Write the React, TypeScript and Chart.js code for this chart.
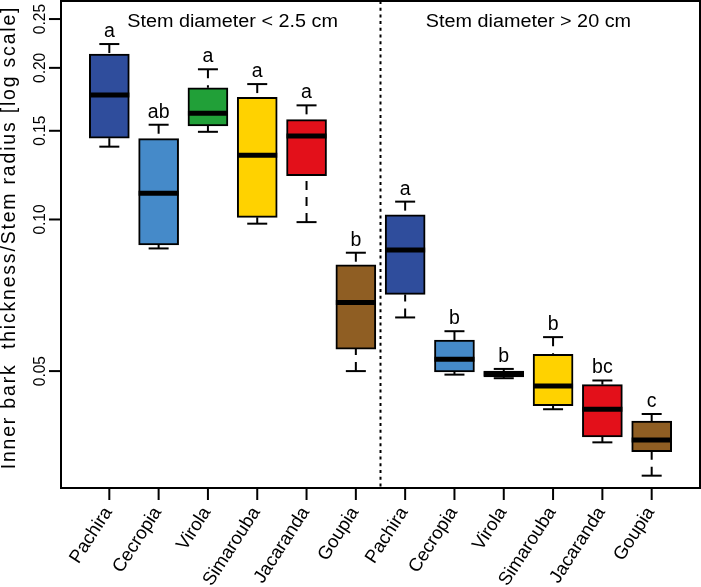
import React, { useEffect, useRef } from 'react';
import { Chart, registerables } from 'chart.js';

Chart.register(...registerables);

const CATEGORIES = ['Pachira', 'Cecropia', 'Virola', 'Simarouba', 'Jacaranda', 'Goupia', 'Pachira', 'Cecropia', 'Virola', 'Simarouba', 'Jacaranda', 'Goupia'];
const MIN_VALUES = [0.1395, 0.0876, 0.1493, 0.0981, 0.0988, 0.0500, 0.0639, 0.0492, 0.0484, 0.0420, 0.0361, 0.0310];
const Q1_VALUES = [0.1450, 0.0890, 0.1533, 0.1010, 0.1222, 0.0553, 0.0710, 0.0498, 0.0487, 0.0427, 0.0370, 0.0346];
const MEDIAN_VALUES = [0.1767, 0.1127, 0.1625, 0.1341, 0.1464, 0.0684, 0.0870, 0.0528, 0.0494, 0.0467, 0.0420, 0.0365];
const Q3_VALUES = [0.2130, 0.1447, 0.1826, 0.1748, 0.1578, 0.0813, 0.1022, 0.0576, 0.0500, 0.0540, 0.0470, 0.0398];
const MAX_VALUES = [0.2230, 0.1542, 0.1987, 0.1857, 0.1685, 0.0859, 0.1085, 0.0600, 0.0505, 0.0584, 0.0479, 0.0411];
const LETTERS = ['a', 'ab', 'a', 'a', 'a', 'b', 'a', 'b', 'b', 'b', 'bc', 'c'];
const SPECIES_COLORS = ['#2F4D9C', '#458AC9', '#21A038', '#FFD200', '#E3101A', '#8F5E23'];
const BOX_COLORS = [...SPECIES_COLORS, ...SPECIES_COLORS];
const Y_TICKS = [0.05, 0.10, 0.15, 0.20, 0.25];
const Y_TICK_LABELS = ['0.05', '0.10', '0.15', '0.20', '0.25'];
const PANEL_TITLES = ['Stem diameter < 2.5 cm', 'Stem diameter > 20 cm'];
const PANEL_CENTERS = [3.5, 9.5];
const DIVIDER_AT = 6.5;
const Y_TITLE = 'Inner bark  thickness/Stem radius [log scale]';

const FONT = '"Liberation Sans", Arial, Helvetica, sans-serif';

function drawText(
  ctx: CanvasRenderingContext2D,
  text: string,
  x: number,
  y: number,
  size: number,
  rot: number,
  align: CanvasTextAlign,
  baseline: CanvasTextBaseline,
  stretchX = 1,
  spacing = 0
) {
  ctx.save();
  ctx.translate(x, y);
  ctx.scale(stretchX, 1);
  ctx.rotate(rot);
  ctx.font = `${size}px ${FONT}`;
  ctx.textAlign = align;
  ctx.textBaseline = baseline;
  ctx.fillStyle = '#000';
  if (spacing) (ctx as any).letterSpacing = `${spacing}px`;
  ctx.fillText(text, 0, 0);
  ctx.restore();
}

const boxPlugin = {
  id: 'boxExtras',
  beforeDatasetsDraw(chart: any) {
    const ctx: CanvasRenderingContext2D = chart.ctx;
    const xs = chart.scales.x;
    const ys = chart.scales.y;
    ctx.save();
    ctx.strokeStyle = '#000';
    ctx.lineWidth = 2;
    CATEGORIES.forEach((_, i) => {
      const cx = xs.getPixelForValue(i + 1);
      const pairs: [number, number][] = [
        [MAX_VALUES[i], Q3_VALUES[i]],
        [MIN_VALUES[i], Q1_VALUES[i]],
      ];
      pairs.forEach(([end, edge]) => {
        const yEnd = ys.getPixelForValue(end);
        const yEdge = ys.getPixelForValue(edge);
        ctx.setLineDash([9, 7]);
        ctx.beginPath();
        ctx.moveTo(cx, yEnd);
        ctx.lineTo(cx, yEdge);
        ctx.stroke();
        ctx.setLineDash([]);
        ctx.beginPath();
        ctx.moveTo(cx - 10, yEnd);
        ctx.lineTo(cx + 10, yEnd);
        ctx.stroke();
      });
    });
    ctx.restore();
  },
  afterDatasetsDraw(chart: any) {
    const ctx: CanvasRenderingContext2D = chart.ctx;
    const xs = chart.scales.x;
    const ys = chart.scales.y;
    const area = chart.chartArea;
    ctx.save();
    // medians
    ctx.strokeStyle = '#000';
    ctx.lineWidth = 5;
    ctx.lineCap = 'butt';
    CATEGORIES.forEach((_, i) => {
      const cx = xs.getPixelForValue(i + 1);
      const y = ys.getPixelForValue(MEDIAN_VALUES[i]);
      ctx.beginPath();
      ctx.moveTo(cx - 20, y);
      ctx.lineTo(cx + 20, y);
      ctx.stroke();
    });
    // divider
    ctx.lineWidth = 2;
    ctx.setLineDash([3, 3.7]);
    const dx = xs.getPixelForValue(DIVIDER_AT);
    ctx.beginPath();
    ctx.moveTo(dx, area.top);
    ctx.lineTo(dx, area.bottom);
    ctx.stroke();
    ctx.setLineDash([]);
    // frame
    ctx.strokeRect(area.left, area.top, area.right - area.left, area.bottom - area.top);
    // y ticks
    Y_TICKS.forEach((v, k) => {
      const y = ys.getPixelForValue(v);
      ctx.beginPath();
      ctx.moveTo(area.left - 12, y);
      ctx.lineTo(area.left, y);
      ctx.stroke();
      drawText(ctx, Y_TICK_LABELS[k], 45, y, 15.5, -Math.PI / 2, 'center', 'alphabetic', 1.12);
    });
    // x ticks + labels
    CATEGORIES.forEach((name, i) => {
      const cx = xs.getPixelForValue(i + 1);
      ctx.beginPath();
      ctx.moveTo(cx, area.bottom);
      ctx.lineTo(cx, area.bottom + 12);
      ctx.stroke();
      drawText(ctx, name, cx - 1, area.bottom + 21, 18.5, -(57 * Math.PI) / 180, 'right', 'middle');
    });
    // letters
    CATEGORIES.forEach((_, i) => {
      const cx = xs.getPixelForValue(i + 1);
      const y = ys.getPixelForValue(MAX_VALUES[i]);
      drawText(ctx, LETTERS[i], cx, y - 7, 19.5, 0, 'center', 'alphabetic');
    });
    // panel titles
    PANEL_TITLES.forEach((t, k) => {
      drawText(ctx, t, xs.getPixelForValue(PANEL_CENTERS[k]), area.top + 26, 18, 0, 'center', 'alphabetic', 1.1);
    });
    // y title
    drawText(ctx, Y_TITLE, 14.5, 237.5, 19.5, -Math.PI / 2, 'center', 'alphabetic', 1, 1.8);
    ctx.restore();
  },
};

export default function App() {
  const ref = useRef<HTMLCanvasElement | null>(null);
  useEffect(() => {
    if (!ref.current) return;
    const chart = new Chart(ref.current, {
      type: 'bar',
      data: {
        datasets: [
          {
            data: CATEGORIES.map((_, i) => ({ x: i + 1, y: [Q1_VALUES[i], Q3_VALUES[i]] })) as any,
            backgroundColor: BOX_COLORS,
            borderColor: '#000',
            borderWidth: 2,
            borderSkipped: false,
            barThickness: 40,
          },
        ],
      },
      options: {
        responsive: false,
        animation: false,
        devicePixelRatio: 1,
        layout: { padding: { left: 61, right: 1, top: 1, bottom: 99 } },
        plugins: { legend: { display: false }, tooltip: { enabled: false } },
        scales: {
          x: { type: 'linear', min: 0.02, max: 12.98, offset: false, display: false },
          y: { type: 'logarithmic', min: 0.0293, max: 0.2715, display: false },
        },
      } as any,
      plugins: [boxPlugin],
    });
    return () => chart.destroy();
  }, []);
  return (
    <div style={{ position: 'fixed', left: 0, top: 0, width: 701, height: 587, background: '#fff' }}>
      <canvas ref={ref} width={701} height={587} style={{ display: 'block', width: 701, height: 587 }} />
    </div>
  );
}
